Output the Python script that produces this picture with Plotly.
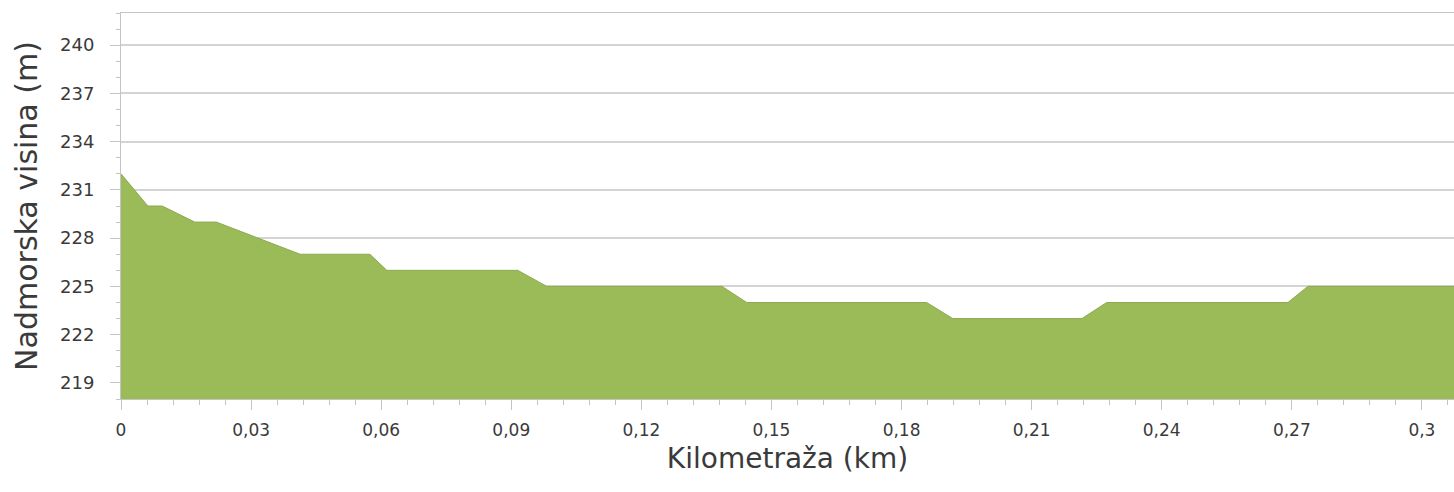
import plotly.graph_objects as go

# Distance (km) and elevation (m)
km = [0.0, 0.0062, 0.0095, 0.017, 0.022, 0.0315, 0.0413, 0.0574, 0.0613, 0.0915,
      0.0982, 0.1386, 0.1443, 0.1858, 0.1918, 0.2216, 0.2273, 0.2691, 0.2737, 0.31]
elev = [232, 230, 230, 229, 229, 228, 227, 227, 226, 226,
        225, 225, 224, 224, 223, 223, 224, 224, 225, 225]

x_tickvals = [0, 0.03, 0.06, 0.09, 0.12, 0.15, 0.18, 0.21, 0.24, 0.27, 0.3]
x_ticktext = ["0", "0,03", "0,06", "0,09", "0,12", "0,15", "0,18", "0,21", "0,24", "0,27", "0,3"]
y_tickvals = [219, 222, 225, 228, 231, 234, 237, 240]
y_ticktext = ["219", "222", "225", "228", "231", "234", "237", "240"]

fig = go.Figure()
fig.add_trace(go.Scatter(
    x=km, y=elev, mode="lines", fill="tozeroy",
    fillcolor="#9BBB59", line=dict(color="#8DAA50", width=1),
    hoverinfo="x+y", showlegend=False,
))

font_family = "DejaVu Sans, Verdana, sans-serif"
txt = "#3a3a3a"
axc = "#c4c4c4"

fig.update_layout(
    width=1454, height=492,
    margin=dict(l=121, r=0, t=13, b=93),
    paper_bgcolor="white", plot_bgcolor="white",
    separators=",.",
    font=dict(family=font_family, color=txt),
    xaxis=dict(
        range=[0, 0.3074],
        tickvals=x_tickvals, ticktext=x_ticktext,
        ticks="outside", ticklen=10, tickcolor=axc, tickwidth=1,
        minor=dict(dtick=0.006, ticks="outside", ticklen=5, tickcolor=axc, showgrid=False),
        showline=True, linecolor=axc, linewidth=1, mirror=True,
        showgrid=False, zeroline=False,
        ticklabelstandoff=6,
        tickfont=dict(size=17, color=txt, family=font_family),
        title=dict(text="Kilometraža (km)", font=dict(size=28, color=txt, family=font_family), standoff=8),
    ),
    yaxis=dict(
        range=[218, 242],
        tickvals=y_tickvals, ticktext=y_ticktext,
        ticks="outside", ticklen=10, tickcolor=axc, tickwidth=1,
        minor=dict(dtick=1, tick0=218, ticks="outside", ticklen=4, tickcolor=axc, showgrid=False),
        showline=True, linecolor=axc, linewidth=1,
        showgrid=True, gridcolor="#d4d4d4", gridwidth=1.5, zeroline=False,
        ticklabelstandoff=12,
        tickfont=dict(size=18, color=txt, family=font_family),
        title=dict(text="Nadmorska visina (m)", font=dict(size=30, color=txt, family=font_family), standoff=13),
    ),
)

fig.write_html("out.html", config={"displayModeBar": False},
               post_script="document.body.style.margin='0';")
